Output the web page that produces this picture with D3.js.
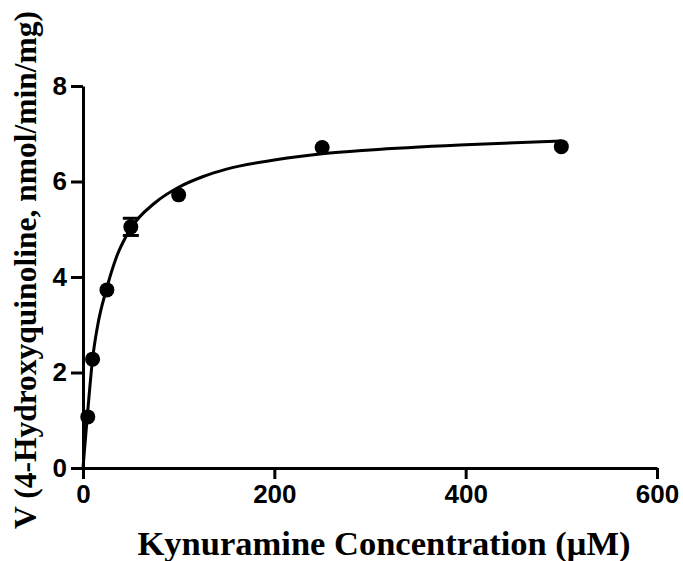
<!DOCTYPE html>
<html>
<head>
<meta charset="utf-8">
<script src="https://cdn.jsdelivr.net/npm/d3@7"></script>
<style>
  body { margin: 0; background: #fff; }
  svg { display: block; }
  .axis text { font-family: "Liberation Sans", Arial, sans-serif; font-weight: bold; font-size: 26px; fill: #000; }
  .axis path, .axis line { stroke: #000; stroke-width: 3; }
  .title { font-family: "Liberation Serif", "Times New Roman", serif; font-weight: bold; fill: #000; }
</style>
</head>
<body>
<svg width="683" height="561"></svg>
<script>
// measured points (mean, SEM)
const concentrations = [5, 10, 25, 50, 100, 250, 500];
const velocities = [1.07, 2.28, 3.73, 5.05, 5.72, 6.71, 6.73];
const errors = [0, 0, 0, 0.18, 0, 0, 0];

// fitted curve
const fitX = [0, 5, 10, 15, 25, 35, 50, 75, 100, 125, 150, 200, 250, 300, 400, 500];
const fitY = [0, 1.2, 2.28, 2.95, 3.78, 4.42, 5.02, 5.55, 5.88, 6.10, 6.26, 6.45, 6.58, 6.66, 6.77, 6.85];

const xTicks = [0, 200, 400, 600];
const yTicks = [0, 2, 4, 6, 8];

const xTitle = "Kynuramine Concentration (\u03bcM)";
const yTitle = "V (4-Hydroxyquinoline, nmol/min/mg)";

const svg = d3.select("svg");

const x = d3.scaleLinear().domain([0, 600]).range([83, 657]);
const y = d3.scaleLinear().domain([0, 8]).range([468, 86]);

// axes
svg.append("g")
    .attr("class", "axis")
    .attr("transform", `translate(0,${y(0)})`)
    .call(d3.axisBottom(x).tickValues(xTicks).tickSize(11).tickSizeOuter(0).tickPadding(6));

svg.append("g")
    .attr("class", "axis")
    .attr("transform", `translate(${x(0)},0)`)
    .call(d3.axisLeft(y).tickValues(yTicks).tickSize(12).tickSizeOuter(0).tickPadding(4));

// fit curve
const fit = fitX.map((d, i) => ({ s: d, v: fitY[i] }));
svg.append("path")
    .datum(fit)
    .attr("fill", "none")
    .attr("stroke", "#000")
    .attr("stroke-width", 3)
    .attr("d", d3.line()
        .x(d => x(d.s))
        .y(d => y(d.v))
        .curve(d3.curveMonotoneX));

const pts = concentrations.map((d, i) => ({ s: d, v: velocities[i], e: errors[i] }));

// error bars
const eb = svg.append("g").attr("stroke", "#000").attr("stroke-width", 3);
pts.filter(d => d.e > 0).forEach(d => {
    eb.append("line")
        .attr("x1", x(d.s)).attr("x2", x(d.s))
        .attr("y1", y(d.v - d.e)).attr("y2", y(d.v + d.e));
    [d.v - d.e, d.v + d.e].forEach(v => {
        eb.append("line")
            .attr("x1", x(d.s) - 8).attr("x2", x(d.s) + 8)
            .attr("y1", y(v)).attr("y2", y(v));
    });
});

// markers
svg.append("g")
    .selectAll("circle")
    .data(pts)
    .enter()
    .append("circle")
    .attr("cx", d => x(d.s))
    .attr("cy", d => y(d.v))
    .attr("r", 7.5)
    .attr("fill", "#000");

// titles
svg.append("text")
    .attr("class", "title")
    .attr("x", 384)
    .attr("y", 555)
    .attr("text-anchor", "middle")
    .style("font-size", "34.5px")
    .text(xTitle);

svg.append("text")
    .attr("class", "title")
    .attr("transform", "translate(36,270) rotate(-90)")
    .attr("text-anchor", "middle")
    .style("font-size", "31.5px")
    .text(yTitle);
</script>
</body>
</html>
